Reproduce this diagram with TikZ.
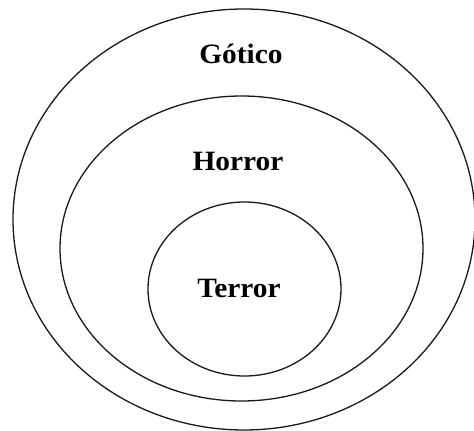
\documentclass[tikz,border=0pt]{standalone}
\usepackage{fontspec}
\setmainfont{Liberation Serif}
\tikzset{
  ring/.style={draw=black!90, line width=1.3pt},
  lbl/.style={font=\fontsize{28}{32}\selectfont\bfseries, inner sep=0pt, xscale=1.05}
}
\begin{document}
\begin{tikzpicture}[x=1pt,y=-1pt]
\useasboundingbox (0,0) rectangle (474,431);
\draw[ring] (244,219.5) ellipse [x radius=231, y radius=210.5];
\draw[ring] (241.5,248.5) ellipse [x radius=181.5, y radius=152.5];
\draw[ring] (244.5,289) ellipse [x radius=96.5, y radius=87];
\node[lbl] (gotico) at (241,54) {Gótico};
\node[lbl] (horror) at (238,161) {Horror};
\node[lbl] (terror) at (239,288) {Terror};
\end{tikzpicture}
\end{document}
